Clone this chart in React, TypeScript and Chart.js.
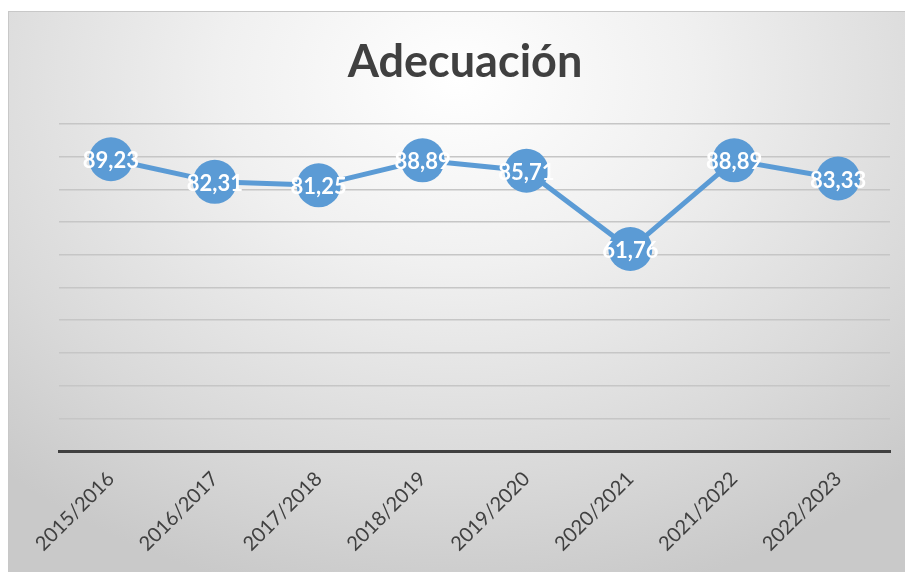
import React, { useEffect, useRef } from "react";
import { Chart, registerables } from "chart.js";

Chart.register(...registerables);

const categories = ["2015/2016", "2016/2017", "2017/2018", "2018/2019", "2019/2020", "2020/2021", "2021/2022", "2022/2023"];
const values = [89.23, 82.31, 81.25, 88.89, 85.71, 61.76, 88.89, 83.33];
const titleText = "Adecuación";

const fmt = (v: number) => v.toFixed(2).replace(".", ",");

const labelPlugin = {
  id: "pointLabels",
  afterDatasetsDraw(chart: any) {
    const ctx = chart.ctx;
    const meta = chart.getDatasetMeta(0);
    ctx.save();
    ctx.fillStyle = "#ffffff";
    ctx.font = "bold 22px Lato";
    ctx.textAlign = "center";
    ctx.textBaseline = "middle";
    meta.data.forEach((pt: any, i: number) => {
      ctx.fillText(fmt(values[i]), pt.x, pt.y + 2);
    });
    ctx.restore();
  },
};

const titlePlugin = {
  id: "customTitle",
  afterDraw(chart: any) {
    const ctx = chart.ctx;
    ctx.save();
    ctx.fillStyle = "#404040";
    ctx.font = "bold 45px Lato";
    ctx.textAlign = "center";
    ctx.textBaseline = "middle";
    ctx.fillText(titleText, 456, 50);
    ctx.restore();
  },
};

export default function App() {
  const ref = useRef<HTMLCanvasElement>(null);
  useEffect(() => {
    if (!ref.current) return;
    const chart = new Chart(ref.current, {
      type: "line",
      data: {
        labels: categories,
        datasets: [
          {
            data: values,
            borderColor: "#5B9BD5",
            backgroundColor: "#5B9BD5",
            borderWidth: 5,
            pointRadius: 22,
            pointHoverRadius: 22,
            pointBorderWidth: 0,
            pointBackgroundColor: "#5B9BD5",
            tension: 0,
            clip: false as any,
          },
        ],
      },
      options: {
        animation: false,
        responsive: false,
        events: [],
        layout: { padding: { left: 50, right: 6, top: 112, bottom: 0 } },
        plugins: {
          legend: { display: false },
          tooltip: { enabled: false },
          title: { display: false },
        },
        scales: {
          x: {
            offset: true,
            grid: { display: false, drawTicks: false },
            border: { display: true, color: "#404040", width: 3 },
            ticks: {
              color: "#404040",
              font: { family: "Lato", size: 20 },
              minRotation: 45,
              maxRotation: 45,
              padding: 16,
            },
            afterFit: (s: any) => {
              s.height = 113;
              s.paddingLeft = 0;
              s.paddingRight = 0;
            },
          },
          y: {
            min: 0,
            max: 100,
            ticks: { display: false, stepSize: 10 },
            grid: { color: "#c6c6c6", lineWidth: 1.5, drawTicks: false },
            border: { display: false },
            afterFit: (s: any) => {
              s.width = 0;
              s.paddingTop = 0;
              s.paddingBottom = 0;
            },
          },
        },
      },
      plugins: [labelPlugin, titlePlugin],
    });
    return () => chart.destroy();
  }, []);
  return (
    <div
      style={{
        position: "absolute",
        left: 8,
        top: 11,
        width: 896,
        height: 560,
        overflow: "hidden",
        borderTop: "1px solid #c8c8c8",
        borderLeft: "1px solid #c8c8c8",
        background: "radial-gradient(ellipse 75% 95% at 50% 12%, #ffffff 0%, #f0f0f0 35%, #d9d9d9 75%, #c9c9c9 100%)",
      }}
    >
      <canvas ref={ref} width={903} height={552} style={{ display: "block" }} />
    </div>
  );
}
